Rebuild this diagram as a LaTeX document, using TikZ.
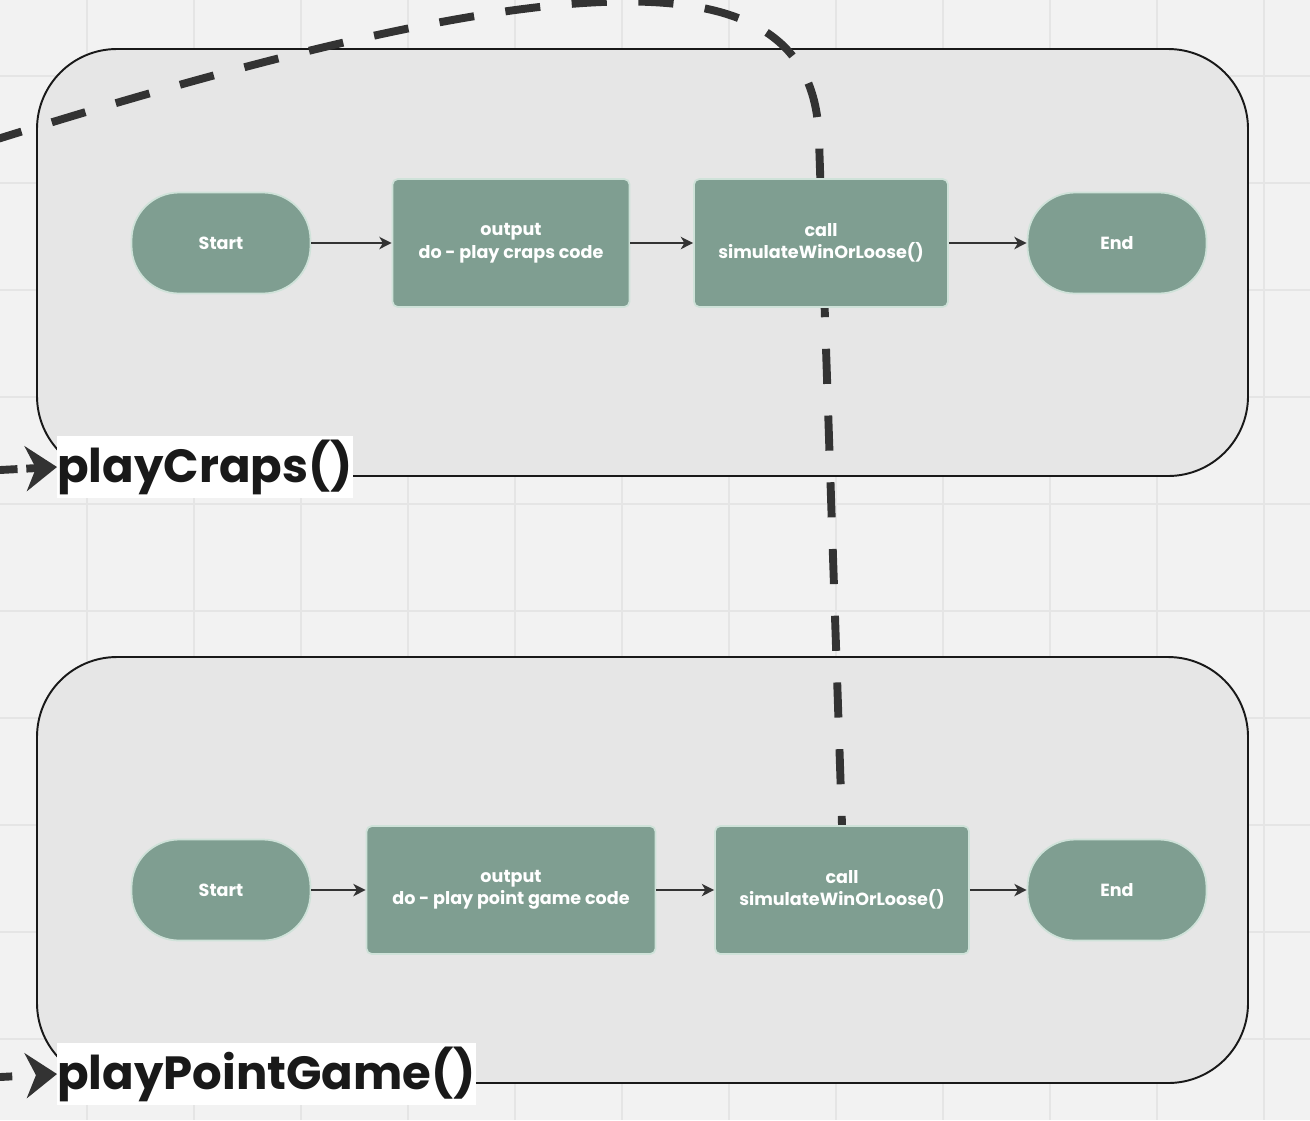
\documentclass[tikz,border=0pt]{standalone}
\usepackage{fontspec}
\setmainfont{Poppins}
\usetikzlibrary{arrows.meta}
\definecolor{paper}{HTML}{F2F2F2}
\definecolor{gridline}{HTML}{E5E5E5}
\definecolor{panel}{HTML}{E6E6E6}
\definecolor{sage}{HTML}{7F9E91}
\definecolor{sageedge}{HTML}{CFE2D9}
\definecolor{ink}{HTML}{333333}
\pgfdeclarelayer{bg}
\pgfdeclarelayer{wire}
\pgfsetlayers{bg,wire,main}
\tikzset{
  pill/.style={draw=sageedge, line width=1pt, fill=sage, text=white,
    font=\fontsize{10}{11}\selectfont\bfseries, rounded corners=0.95cm,
    minimum width=3.58cm, minimum height=2.02cm},
  task/.style={draw=sageedge, line width=1pt, fill=sage, text=white,
    font=\fontsize{10}{12.8}\selectfont\bfseries, rounded corners=3pt,
    minimum height=2.56cm, align=center},
  flow/.style={draw=ink, line width=1.1pt, -{Stealth[length=7pt,width=7pt,inset=2pt]}},
  panelbox/.style={draw=black!90, line width=1.1pt, fill=panel, rounded corners=1.6cm},
  title/.style={fill=white, text=black!90, font=\fontsize{26.5}{28}\selectfont\bfseries,
    inner xsep=0pt, inner ysep=2pt, minimum height=1.22cm, anchor=west},
  link/.style={draw=ink, line width=4.5pt, dash pattern=on 20pt off 18pt},
  calltip/.style={-{Stealth[length=18pt,width=26pt,inset=6pt,line width=0pt]}},
}
\begin{document}
\begin{tikzpicture}[x=0.02cm, y=-0.02cm]
  \useasboundingbox (0,0) rectangle (1310,1120);
  \begin{pgfonlayer}{bg}
    \fill[paper] (0,0) rectangle (1310,1120);
    \foreach \gx in {87,194,...,1310}
      \draw[gridline, line width=1.1pt] (\gx,0) -- (\gx,1120);
    \foreach \gy in {76,183,...,1120}
      \draw[gridline, line width=1.1pt] (0,\gy) -- (1310,\gy);
    % the two function panels
    \draw[panelbox] (37,49) rectangle (1248,476);
    \draw[panelbox] (37,657) rectangle (1248,1083);
  \end{pgfonlayer}

  % playCraps()
  \node[pill] (start1) at (221,243) {Start};
  \node[task, minimum width=4.74cm] (out1) at (511,243) {output\\do - play craps code};
  \node[task, minimum width=5.08cm] (call1) at (821,243) {call\\simulateWinOrLoose()};
  \node[pill] (end1) at (1117,243) {End};
  \draw[flow] (start1) -- (out1);
  \draw[flow] (out1) -- (call1);
  \draw[flow] (call1) -- (end1);
  \node[title] (crapsname) at (57,467) {playCraps()};

  % playPointGame()
  \node[pill] (start2) at (221,890) {Start};
  \node[task, minimum width=5.78cm] (out2) at (511,890) {output\\do - play point game code};
  \node[task, minimum width=5.08cm] (call2) at (842,890) {call\\simulateWinOrLoose()};
  \node[pill] (end2) at (1117,890) {End};
  \draw[flow] (start2) -- (out2);
  \draw[flow] (out2) -- (call2);
  \draw[flow] (call2) -- (end2);
  \node[title] (pointname) at (57,1074) {playPointGame()};

  % incoming calls
  \coordinate (from0) at (-12,142);
  \coordinate (from1) at (0,470);
  \coordinate (from2) at (0,1077);
  \begin{pgfonlayer}{wire}
    \draw[link] (from0) .. controls (600,-50) and (815,-40) .. (819,140) -- (call2.north);
  \end{pgfonlayer}
  \draw[link, calltip, dash pattern=on 10pt off 5pt] (from1) -- (crapsname.west);
  \draw[link, calltip, dash pattern=on 7pt off 20pt] (from2) -- (pointname.west);
\end{tikzpicture}
\end{document}
